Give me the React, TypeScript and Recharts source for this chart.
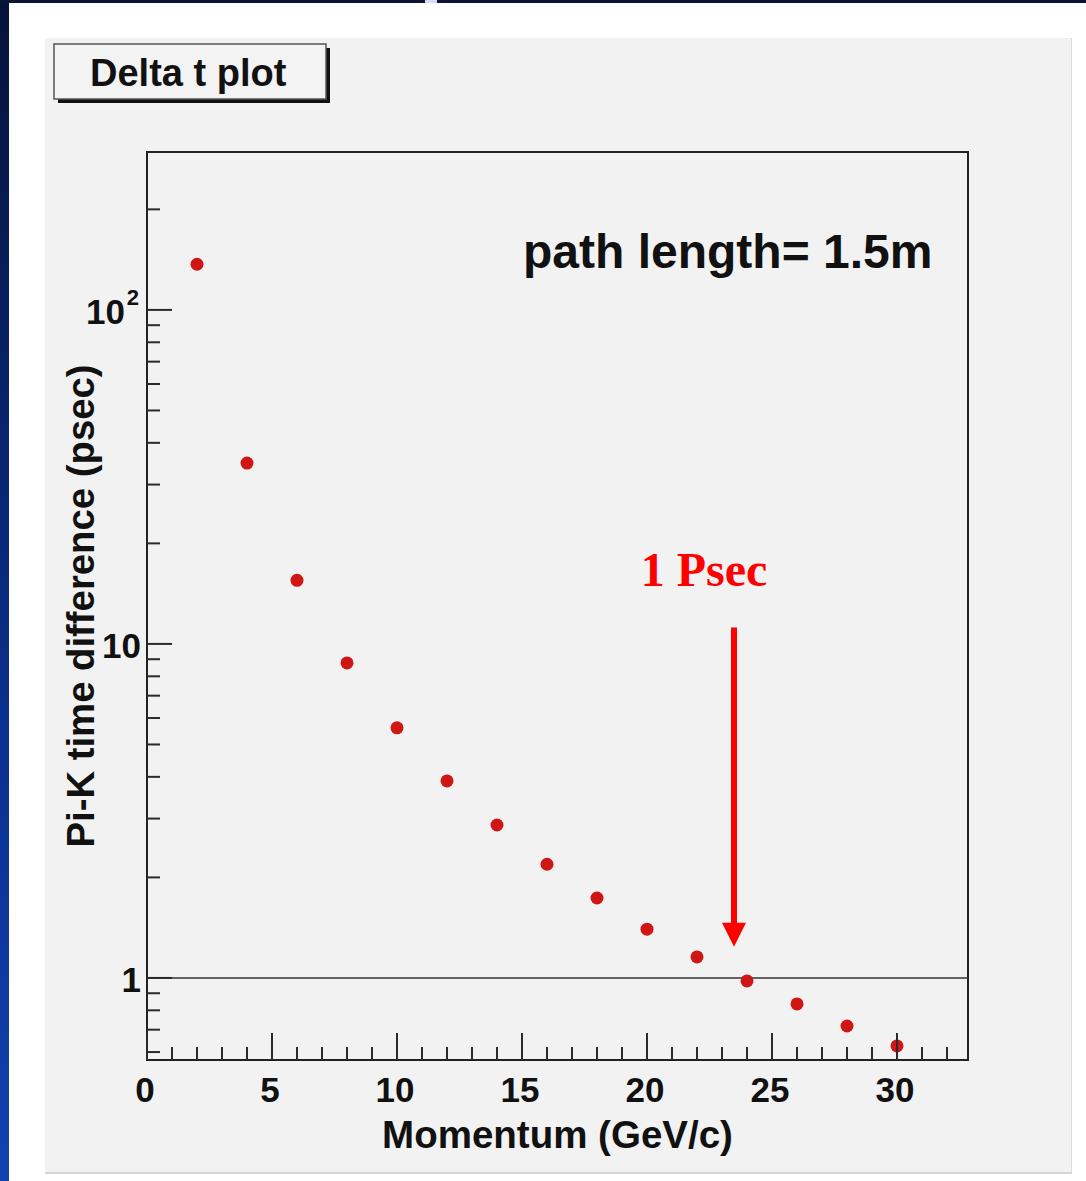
import { ScatterChart, Scatter, XAxis, YAxis, ReferenceLine, ReferenceArea } from "recharts";

// momentum (GeV/c) and Pi-K time difference (psec)
const momentum = [2, 4, 6, 8, 10, 12, 14, 16, 18, 20, 22, 24, 26, 28, 30];
const deltaT = [137, 34.8, 15.5, 8.77, 5.61, 3.89, 2.87, 2.19, 1.735, 1.4, 1.156, 0.98, 0.836, 0.718, 0.626];

const xDomain = [0, 32.84];
const yDomain = [0.568, 297];
const xTicks = Array.from({ length: 33 }, (_, i) => i);
const xMajor = [0, 5, 10, 15, 20, 25, 30];
const yTicks = [0.6, 0.7, 0.8, 0.9, 1, 2, 3, 4, 5, 6, 7, 8, 9, 10, 20, 30, 40, 50, 60, 70, 80, 90, 100, 200];
const yMajor = [1, 10, 100];
const yMajorBase = ["1", "10", "10"];
const yMajorExp = ["", "", "2"];

// arrow marking the 1 psec crossing
const arrowX = 23.48;
const arrowFrom = 11.2;
const arrowTo = 1.24;

const data = momentum.map((p, i) => ({ p, dt: deltaT[i] }));

const FONT = "'Liberation Sans', Arial, Helvetica, sans-serif";
const INK = "#111";

function XTick({ x, y, payload }: any) {
  const v = payload.value;
  const major = xMajor.includes(v);
  return (
    <g>
      <line x1={x} x2={x} y1={y} y2={y - (major ? 27 : 13)} stroke="#2a2a2a" strokeWidth={2} />
      {major && (
        <text x={x - 2} y={y + 42} textAnchor="middle" fontFamily={FONT} fontWeight="bold" fontSize={35} fill={INK}>
          {v}
        </text>
      )}
    </g>
  );
}

function YTick({ x, y, payload }: any) {
  const v = payload.value;
  const idx = yMajor.indexOf(v);
  const major = idx >= 0;
  return (
    <g>
      <line x1={x} x2={x + (major ? 25 : 13)} y1={y} y2={y} stroke="#2a2a2a" strokeWidth={2} />
      {major && (
        <text x={yMajorExp[idx] ? x - 22 : x - 6} y={y + 14} textAnchor="end" fontFamily={FONT} fontWeight="bold" fontSize={35} fill={INK}>
          {yMajorBase[idx]}
        </text>
      )}
      {major && yMajorExp[idx] && (
        <text x={x - 8} y={y - 5} textAnchor="end" fontFamily={FONT} fontWeight="bold" fontSize={22} fill={INK}>
          {yMajorExp[idx]}
        </text>
      )}
    </g>
  );
}

function Arrow(props: any) {
  const { x1, y1, y2 } = props;
  const head = 24;
  return (
    <g>
      <text x={x1 - 30} y={y1 - 41} textAnchor="middle" fontFamily="'Liberation Serif', 'Times New Roman', serif" fontWeight="bold" fontSize={48} fill="#ff0000">
        1 Psec
      </text>
      <line x1={x1} x2={x1} y1={y1} y2={y2 - head + 2} stroke="#ff0000" strokeWidth={6} />
      <polygon points={`${x1 - 12},${y2 - head} ${x1 + 12},${y2 - head} ${x1},${y2}`} fill="#ff0000" />
    </g>
  );
}

export default function App() {
  return (
    <div style={{ position: "absolute", left: 0, top: 0, width: 1086, height: 1181, background: "#ffffff", overflow: "hidden" }}>
      {/* slide background strips */}
      <div style={{ position: "absolute", left: 0, top: 0, width: 9, height: 1181, background: "linear-gradient(#06123a, #0b2f8c 60%, #1142b0)" }} />
      <div style={{ position: "absolute", left: 0, top: 0, width: 1086, height: 3, background: "#0a1536" }} />
      <div style={{ position: "absolute", left: 425, top: 0, width: 12, height: 3, background: "#d9dcf2" }} />
      {/* ROOT canvas */}
      <div style={{ position: "absolute", left: 45, top: 38, width: 1026, height: 1134, background: "#f2f2f2", borderRight: "1px solid #dcdcdc", borderBottom: "2px solid #d6d6d6" }} />

      <div style={{ position: "absolute", left: 0, top: 0 }}>
        <ScatterChart width={1086} height={1181} margin={{ top: 152, right: 118, left: 47, bottom: 21 }}>
          <ReferenceArea x1={xDomain[0]} x2={xDomain[1]} y1={yDomain[0]} y2={yDomain[1]} fill="none" stroke="#222" strokeWidth={2} ifOverflow="visible" />
          <XAxis
            type="number"
            dataKey="p"
            domain={xDomain}
            ticks={xTicks}
            interval={0}
            allowDataOverflow
            axisLine={false}
            tickLine={false}
            tickSize={0}
            tickMargin={0}
            height={100}
            tick={<XTick />}
            label={{
              content: ({ viewBox }: any) => (
                <text x={viewBox.x + viewBox.width / 2} y={viewBox.y + 88} textAnchor="middle" fontFamily={FONT} fontWeight="bold" fontSize={38.5} fill={INK}>
                  Momentum (GeV/c)
                </text>
              ),
            }}
          />
          <YAxis
            type="number"
            dataKey="dt"
            scale="log"
            domain={yDomain}
            ticks={yTicks}
            interval={0}
            allowDataOverflow
            axisLine={false}
            tickLine={false}
            tickSize={0}
            tickMargin={0}
            width={100}
            tick={<YTick />}
            label={{
              content: ({ viewBox }: any) => {
                const cx = viewBox.x + 47;
                const cy = viewBox.y + viewBox.height / 2;
                return (
                  <text x={cx} y={cy} transform={`rotate(-90 ${cx} ${cy})`} textAnchor="middle" fontFamily={FONT} fontWeight="bold" fontSize={38.3} fill={INK}>
                    Pi-K time difference (psec)
                  </text>
                );
              },
            }}
          />
          <ReferenceLine y={1} stroke="#333" strokeWidth={1.5} />
          <ReferenceLine segment={[{ x: arrowX, y: arrowFrom }, { x: arrowX, y: arrowTo }]} shape={<Arrow />} ifOverflow="visible" />
          <Scatter
            data={data}
            isAnimationActive={false}
            shape={(p: any) => <circle cx={p.cx} cy={p.cy} r={6.5} fill="#d01515" />}
          />
        </ScatterChart>
      </div>

      {/* title box and annotation */}
      <svg width={1086} height={1181} style={{ position: "absolute", left: 0, top: 0, pointerEvents: "none" }}>
        <rect x={58} y={48} width={272} height={55} fill="#111" />
        <rect x={54} y={44} width={272} height={55} fill="#f3f3f3" stroke="#555" strokeWidth={1.5} />
        <text x={90} y={86} fontFamily={FONT} fontWeight="bold" fontSize={38} fill={INK}>
          Delta t plot
        </text>
        <text x={523} y={268} fontFamily={FONT} fontWeight="bold" fontSize={48} fill={INK}>
          path length= 1.5m
        </text>
      </svg>
    </div>
  );
}
